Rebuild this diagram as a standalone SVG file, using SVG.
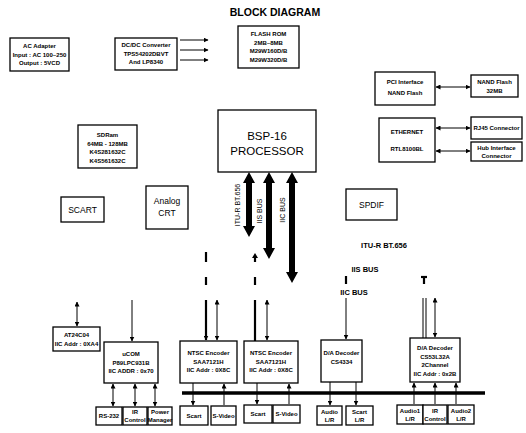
<svg xmlns="http://www.w3.org/2000/svg" width="526" height="433" viewBox="0 0 526 433">
<defs>
<marker id="ah" viewBox="0 0 10 10" refX="9" refY="5" markerWidth="5" markerHeight="5" markerUnits="userSpaceOnUse" orient="auto-start-reverse"><path d="M0,0 L10,5 L0,10 Z" fill="#000"/></marker>
<style>
.b{fill:#fff;stroke:#000;stroke-width:1.3}
.t{font-family:"Liberation Sans",Arial,sans-serif;font-size:6px;font-weight:bold;fill:#000;text-anchor:middle}
.m{font-family:"Liberation Sans",Arial,sans-serif;fill:#000;text-anchor:middle}
.l{stroke:#000;stroke-width:1;fill:none}
.k{stroke:#000;stroke-width:2.2;fill:none}
</style>
</defs>
<rect width="526" height="433" fill="#fff"/>
<text class="m" x="275" y="16" font-size="10.5" font-weight="bold">BLOCK DIAGRAM</text>

<g id="ac"><rect class="b" x="10" y="38" width="59" height="33"/><text class="t" x="39.5" y="48">AC Adapter</text><text class="t" x="39.5" y="56.5">Input : AC 100~250</text><text class="t" x="39.5" y="65">Output : 5VCD</text></g>
<g id="dcdc"><rect class="b" x="115" y="38" width="62" height="32"/><text class="t" x="146" y="47">DC/DC Converter</text><text class="t" x="146" y="55.5">TPS54202DBVT</text><text class="t" x="146" y="64">And LP8340</text></g>
<g id="flash"><rect class="b" x="238" y="26" width="61" height="42"/><text class="t" x="268.5" y="36">FLASH ROM</text><text class="t" x="268.5" y="44.5">2MB~8MB</text><text class="t" x="268.5" y="53">M29W160D/B</text><text class="t" x="268.5" y="61.5">M29W320D/B</text></g>
<g id="pci"><rect class="b" x="375" y="72" width="60" height="33"/><text class="t" x="405" y="84">PCI Interface</text><text class="t" x="405" y="95">NAND Flash</text></g>
<g id="nand"><rect class="b" x="471" y="75" width="47" height="22"/><text class="t" x="494.5" y="84">NAND Flash</text><text class="t" x="494.5" y="92.5">32MB</text></g>
<g id="sdram"><rect class="b" x="78" y="125" width="59" height="43"/><text class="t" x="107.5" y="137">SDRam</text><text class="t" x="107.5" y="145.5">64MB - 128MB</text><text class="t" x="107.5" y="154">K4S281632C</text><text class="t" x="107.5" y="162.5">K4S561632C</text></g>
<g id="cpu"><rect class="b" x="218" y="110" width="98" height="62"/><text class="m" x="267" y="140" font-size="11.5">BSP-16</text><text class="m" x="267" y="155" font-size="11.5">PROCESSOR</text></g>
<g id="eth"><rect class="b" x="379" y="118" width="56" height="44"/><text class="t" x="407" y="134">ETHERNET</text><text class="t" x="407" y="151">RTL8100BL</text></g>
<g id="rj45"><rect class="b" x="471" y="117" width="51" height="22"/><text class="t" x="496.5" y="130">RJ45 Connector</text></g>
<g id="hub"><rect class="b" x="471" y="142" width="51" height="19"/><text class="t" x="496.5" y="150">Hub Interface</text><text class="t" x="496.5" y="157.5">Connector</text></g>
<g id="scart"><rect class="b" x="61" y="197" width="43" height="25"/><text class="m" x="82.5" y="213" font-size="8.5">SCART</text></g>
<g id="crt"><rect class="b" x="146" y="186" width="42" height="43"/><text class="m" x="167" y="204" font-size="8.5">Analog</text><text class="m" x="167" y="216" font-size="8.5">CRT</text></g>
<g id="spdif"><rect class="b" x="346" y="189" width="51" height="31"/><text class="m" x="371.5" y="208" font-size="8.5">SPDIF</text></g>

<g id="at24"><rect class="b" x="53" y="327" width="47" height="24"/><text class="t" x="76.5" y="337">AT24C04</text><text class="t" x="76.5" y="345.5">IIC Addr : 0XA4</text></g>
<g id="ucom"><rect class="b" x="104" y="342" width="54" height="41"/><text class="t" x="131" y="356">uCOM</text><text class="t" x="131" y="364.5">P89LPC931B</text><text class="t" x="131" y="373">IIC ADDR : 0x70</text></g>
<g id="rs232"><rect class="b" x="96" y="407" width="26" height="18"/><text class="t" x="109" y="418">RS-232</text></g>
<g id="irc1"><rect class="b" x="123" y="407" width="24" height="18"/><text class="t" x="135" y="414">IR</text><text class="t" x="135" y="421.5">Control</text></g>
<g id="pwr"><rect class="b" x="148" y="407" width="24" height="18"/><text class="t" x="160" y="414">Power</text><text class="t" x="160" y="421.5">Manager</text></g>
<g id="ntsc1"><rect class="b" x="180" y="341" width="57" height="42"/><text class="t" x="208.5" y="355">NTSC Encoder</text><text class="t" x="208.5" y="363.5">SAA7121H</text><text class="t" x="208.5" y="372">IIC Addr : 0X8C</text></g>
<g id="ntsc2"><rect class="b" x="244" y="341" width="54" height="42"/><text class="t" x="271" y="355">NTSC Encoder</text><text class="t" x="271" y="363.5">SAA7121H</text><text class="t" x="271" y="372">IIC Addr : 0X8C</text></g>
<g id="scart1"><rect class="b" x="180" y="406" width="28" height="19"/><text class="t" x="194" y="418">Scart</text></g>
<g id="svid1"><rect class="b" x="211" y="406" width="25" height="19"/><text class="t" x="223.5" y="418">S-Video</text></g>
<g id="scart2"><rect class="b" x="244" y="405" width="28" height="18"/><text class="t" x="258" y="416">Scart</text></g>
<g id="svid2"><rect class="b" x="273" y="405" width="27" height="18"/><text class="t" x="286.5" y="416">S-Video</text></g>
<g id="dac1"><rect class="b" x="321" y="340" width="41" height="42"/><text class="t" x="341.5" y="355">D/A Decoder</text><text class="t" x="341.5" y="363.5">CS4334</text></g>
<g id="audio"><rect class="b" x="317" y="406" width="25" height="19"/><text class="t" x="329.5" y="414">Audio</text><text class="t" x="329.5" y="421.5">L/R</text></g>
<g id="scartlr"><rect class="b" x="346" y="406" width="27" height="19"/><text class="t" x="359.5" y="414">Scart</text><text class="t" x="359.5" y="421.5">L/R</text></g>
<g id="dac2"><rect class="b" x="410" y="338" width="50" height="44"/><text class="t" x="435" y="350">D/A Decoder</text><text class="t" x="435" y="358.5">CS53L32A</text><text class="t" x="435" y="367">2Channel</text><text class="t" x="435" y="375.5">IIC Addr : 0x2B</text></g>
<g id="audio1"><rect class="b" x="397" y="405" width="26" height="19"/><text class="t" x="410" y="413">Audio1</text><text class="t" x="410" y="420.5">L/R</text></g>
<g id="irc2"><rect class="b" x="423" y="405" width="24" height="19"/><text class="t" x="435" y="413">IR</text><text class="t" x="435" y="420.5">Control</text></g>
<g id="audio2"><rect class="b" x="448" y="405" width="26" height="19"/><text class="t" x="461" y="413">Audio2</text><text class="t" x="461" y="420.5">L/R</text></g>

<g id="connectors">
<line class="l" x1="180" y1="40" x2="208" y2="40" marker-end="url(#ah)"/>
<line class="l" x1="180" y1="50" x2="208" y2="50" marker-end="url(#ah)"/>
<line class="l" x1="180" y1="60" x2="208" y2="60" marker-end="url(#ah)"/>
<line class="l" x1="436" y1="87" x2="470" y2="87" marker-start="url(#ah)" marker-end="url(#ah)"/>
<line class="l" x1="436" y1="128" x2="470" y2="128" marker-start="url(#ah)" marker-end="url(#ah)"/>
<line class="l" x1="436" y1="151" x2="470" y2="151" marker-start="url(#ah)" marker-end="url(#ah)"/>

<path d="M249,172 L255,183 L252,183 L252,226 L255,226 L249,237 L243,226 L246,226 L246,183 L243,183 Z" fill="#000"/>
<path d="M269,172 L275,183 L272,183 L272,248 L275,248 L269,259 L263,248 L266,248 L266,183 L263,183 Z" fill="#000"/>
<path d="M292,172 L298,183 L295,183 L295,272 L298,272 L292,283 L286,272 L289,272 L289,183 L286,183 Z" fill="#000"/>
<text class="m" font-size="7" transform="translate(240,205) rotate(-90)">ITU-R BT.656</text>
<text class="m" font-size="7" transform="translate(262,211) rotate(-90)">IIS BUS</text>
<text class="m" font-size="7" transform="translate(285,210) rotate(-90)">IIC BUS</text>

<text class="m" x="384" y="248" font-size="7.5" font-weight="bold">ITU-R BT.656</text>
<text class="m" x="365" y="272" font-size="7.5" font-weight="bold">IIS BUS</text>
<text class="m" x="354" y="295" font-size="7.5" font-weight="bold">IIC BUS</text>

<line class="k" x1="206" y1="252" x2="206" y2="262"/>
<line class="k" x1="206" y1="277" x2="206" y2="285"/>
<line class="k" x1="255" y1="257" x2="255" y2="262"/>
<path d="M252,258 L255,253 L258,258 Z" fill="#000"/>
<line class="k" x1="255" y1="277" x2="255" y2="285"/>
<line class="k" x1="346" y1="276" x2="346" y2="284"/>
<line class="k" x1="424" y1="277" x2="424" y2="284"/>
<line class="k" x1="421" y1="277" x2="427" y2="277"/>

<line class="l" x1="77" y1="302" x2="77" y2="326" marker-start="url(#ah)" marker-end="url(#ah)"/>
<line class="l" x1="132" y1="300" x2="132" y2="341" marker-end="url(#ah)"/>
<line x1="206" y1="300" x2="206" y2="340" stroke="#000" stroke-width="2.2" marker-end="url(#ah)"/>
<line class="l" x1="217" y1="300" x2="217" y2="340" marker-start="url(#ah)" marker-end="url(#ah)"/>
<line class="k" x1="255" y1="300" x2="255" y2="341"/>
<line class="l" x1="267" y1="300" x2="267" y2="340" marker-start="url(#ah)" marker-end="url(#ah)"/>
<line class="l" x1="346" y1="298" x2="346" y2="339" stroke-width="1.6" marker-end="url(#ah)"/>
<line class="l" x1="423" y1="298" x2="423" y2="338"/>
<line class="l" x1="426" y1="298" x2="426" y2="338"/>
<line class="l" x1="435" y1="298" x2="435" y2="337" marker-start="url(#ah)" marker-end="url(#ah)"/>

<line class="l" x1="113" y1="384" x2="113" y2="406" marker-start="url(#ah)" marker-end="url(#ah)"/>
<line class="l" x1="135" y1="384" x2="135" y2="406" marker-start="url(#ah)" marker-end="url(#ah)"/>
<line class="l" x1="155" y1="384" x2="155" y2="406" marker-start="url(#ah)" marker-end="url(#ah)"/>

<line x1="182" y1="393" x2="485" y2="393" stroke="#000" stroke-width="3.5"/>

<line class="l" x1="193" y1="383" x2="193" y2="405" marker-end="url(#ah)"/>
<line class="l" x1="224" y1="405" x2="224" y2="384" marker-end="url(#ah)"/>
<line class="l" x1="257" y1="383" x2="257" y2="404" marker-end="url(#ah)"/>
<line class="l" x1="289" y1="404" x2="289" y2="384" marker-end="url(#ah)"/>
<line class="l" x1="330" y1="382" x2="330" y2="405" marker-end="url(#ah)"/>
<line class="l" x1="356" y1="382" x2="356" y2="405" marker-end="url(#ah)"/>
<line class="l" x1="414" y1="404" x2="414" y2="383" marker-end="url(#ah)"/>
<line class="l" x1="435" y1="404" x2="435" y2="383" marker-end="url(#ah)"/>
<line class="l" x1="456" y1="404" x2="456" y2="383" marker-end="url(#ah)"/>
</g>
</svg>
